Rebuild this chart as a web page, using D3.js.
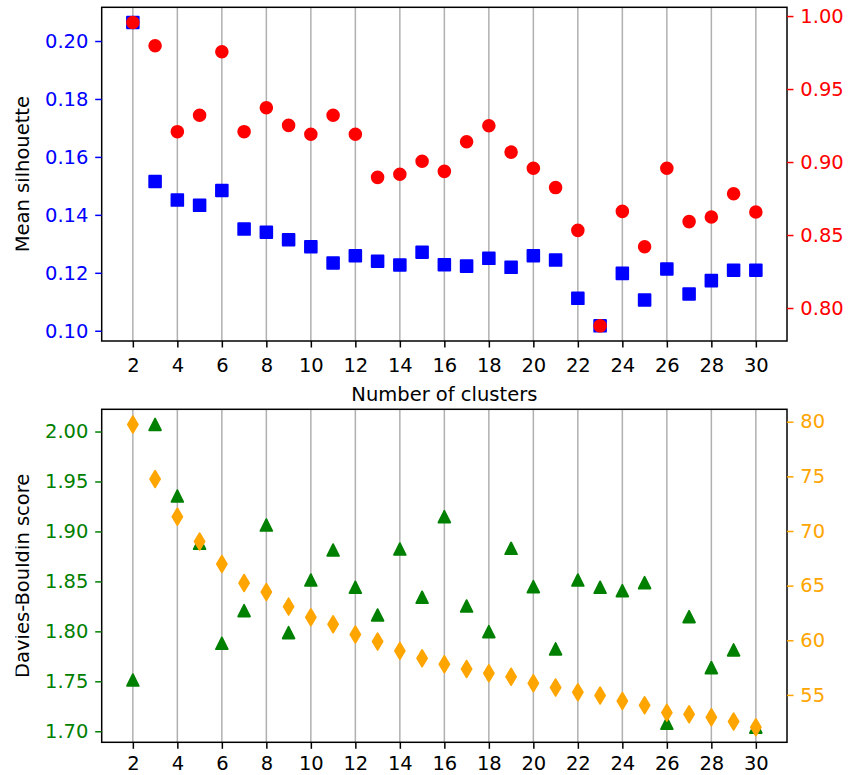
<!DOCTYPE html>
<html>
<head>
<meta charset="utf-8">
<script src="https://cdn.jsdelivr.net/npm/d3@7"></script>
<style>
  html, body { margin: 0; padding: 0; background: #fff; }
  svg { display: block; }
  text { font-family: "DejaVu Sans", sans-serif; }
</style>
</head>
<body>
<svg id="chart" width="850" height="775"></svg>
<script>
// Number of clusters evaluated
const clusters = [2, 3, 4, 5, 6, 7, 8, 9, 10, 11, 12, 13, 14, 15, 16, 17, 18, 19, 20, 21, 22, 23, 24, 25, 26, 27, 28, 29, 30];

// Top panel: mean silhouette (left axis) and second score (right axis)
const meanSilhouette = [0.2064, 0.1515, 0.1451, 0.1433, 0.1484, 0.1351, 0.1340, 0.1314, 0.1290, 0.1234,
  0.1259, 0.1240, 0.1227, 0.1271, 0.1228, 0.1223, 0.1250, 0.1219, 0.1259, 0.1244,
  0.1112, 0.1017, 0.1198, 0.1106, 0.1213, 0.1127, 0.1173, 0.1209, 0.1209];
const topRight = [0.9956, 0.9797, 0.9208, 0.9320, 0.9755, 0.9208, 0.9372, 0.9251, 0.9190, 0.9320,
  0.9190, 0.8895, 0.8916, 0.9005, 0.8936, 0.9139, 0.9249, 0.9068, 0.8957, 0.8825,
  0.8532, 0.7878, 0.8662, 0.8420, 0.8957, 0.8592, 0.8623, 0.8783, 0.8658];

// Bottom panel: Davies-Bouldin score (left axis) and second score (right axis)
const daviesBouldin = [1.7513, 2.0071, 1.9355, 1.8881, 1.7880, 1.8207, 1.9064, 1.7987, 1.8514, 1.8814,
  1.8441, 1.8164, 1.8824, 1.8341, 1.9148, 1.8254, 1.7997, 1.8831, 1.8447, 1.7824,
  1.8514, 1.8441, 1.8407, 1.8487, 1.7080, 1.8147, 1.7637, 1.7814, 1.7041];
const bottomRight = [79.75, 74.76, 71.31, 69.03, 66.99, 65.25, 64.42, 63.08, 62.11, 61.47,
  60.52, 59.88, 59.03, 58.36, 57.81, 57.38, 56.99, 56.67, 56.07, 55.67,
  55.25, 54.94, 54.45, 54.06, 53.38, 53.23, 52.96, 52.56, 52.05];

// Tick values
const xTicks = [2, 4, 6, 8, 10, 12, 14, 16, 18, 20, 22, 24, 26, 28, 30];
const silTicks = [0.10, 0.12, 0.14, 0.16, 0.18, 0.20];
const topRightTicks = [0.80, 0.85, 0.90, 0.95, 1.00];
const dbTicks = [1.70, 1.75, 1.80, 1.85, 1.90, 1.95, 2.00];
const bottomRightTicks = [55, 60, 65, 70, 75, 80];

const svg = d3.select("#chart");
const FONT = 19.5;
const TICK = 6.5;
const PAD = 6.8;
const left = 101.7, right = 787;

// y-axis titles sit against the left edge of the figure and are trimmed there
svg.append("defs").append("clipPath").attr("id", "ylabel-clip")
  .append("rect").attr("x", 15.5).attr("y", 0).attr("width", 60).attr("height", 775);

// Domain with 5% padding on each side, like an auto-scaled axis
function padded(values) {
  const [lo, hi] = d3.extent(values);
  const m = (hi - lo) * 0.05;
  return [lo - m, hi + m];
}

const x = d3.scaleLinear().domain([0.6, 31.4]).range([left, right]);

function drawPanel(opt) {
  const g = svg.append("g");
  const top = opt.top, bottom = opt.bottom;
  const yL = d3.scaleLinear().domain(padded(opt.leftValues)).range([bottom, top]);
  const yR = d3.scaleLinear().domain(padded(opt.rightValues)).range([bottom, top]);

  // vertical grid lines
  g.append("g").selectAll("line").data(xTicks).join("line")
    .attr("x1", d => x(d)).attr("x2", d => x(d))
    .attr("y1", top).attr("y2", bottom)
    .attr("stroke", "#b0b0b0").attr("stroke-width", 1.5);

  const pts = clusters.map((c, i) => ({ c, l: opt.leftValues[i], r: opt.rightValues[i] }));

  // left series markers
  drawMarkers(g, pts, d => x(d.c), d => yL(d.l), opt.leftMarker, opt.leftColor);
  // right series markers drawn on top
  drawMarkers(g, pts, d => x(d.c), d => yR(d.r), opt.rightMarker, opt.rightColor);

  // frame
  g.append("rect").attr("x", left).attr("y", top)
    .attr("width", right - left).attr("height", bottom - top)
    .attr("fill", "none").attr("stroke", "#000").attr("stroke-width", 1.5);

  // x axis
  const xa = g.append("g").attr("transform", `translate(0,${bottom})`)
    .call(d3.axisBottom(x).tickValues(xTicks).tickSize(TICK).tickPadding(PAD).tickFormat(d3.format("d")));
  styleAxis(xa, "#000");
  xa.selectAll("text").attr("dy", null).attr("y", opt.xTickBaseline);

  // left axis
  const la = g.append("g").attr("transform", `translate(${left},0)`)
    .call(d3.axisLeft(yL).tickValues(opt.leftTicks).tickSize(TICK).tickPadding(PAD).tickFormat(d3.format(".2f")));
  styleAxis(la, opt.leftColor);

  // right axis
  const ra = g.append("g").attr("transform", `translate(${right},0)`)
    .call(d3.axisRight(yR).tickValues(opt.rightTicks).tickSize(TICK).tickPadding(PAD).tickFormat(opt.rightFormat));
  styleAxis(ra, opt.rightColor);

  // y label
  g.append("g").attr("clip-path", "url(#ylabel-clip)")
    .append("text")
    .attr("transform", `translate(28.5,${(top + bottom) / 2}) rotate(-90)`)
    .attr("text-anchor", "middle")
    .attr("font-size", FONT).attr("fill", "#000")
    .text(opt.yLabel);

  if (opt.xLabel) {
    g.append("text")
      .attr("x", (left + right) / 2).attr("y", bottom + 60)
      .attr("text-anchor", "middle")
      .attr("font-size", FONT).attr("fill", "#000")
      .text(opt.xLabel);
  }
}

function styleAxis(a, color) {
  a.select(".domain").remove();
  a.selectAll(".tick line").attr("stroke", color).attr("stroke-width", 1.5);
  a.selectAll(".tick text").attr("fill", color).attr("font-size", FONT)
    .attr("font-family", "DejaVu Sans, sans-serif");
}

function drawMarkers(g, data, fx, fy, kind, color) {
  const sel = g.append("g").selectAll("path").data(data).join("path")
    .attr("transform", d => `translate(${fx(d)},${fy(d)})`)
    .attr("fill", color).attr("stroke", color).attr("stroke-width", 1.9)
    .attr("stroke-linejoin", "round");
  if (kind === "square") {
    sel.attr("d", "M-5.83,-5.83H5.83V5.83H-5.83Z");
  } else if (kind === "circle") {
    sel.attr("d", d3.symbol(d3.symbolCircle, Math.PI * 5.83 * 5.83)());
  } else if (kind === "triangle") {
    sel.attr("d", "M0,-5.83L5.83,5.83L-5.83,5.83Z");
  } else if (kind === "thin_diamond") {
    sel.attr("d", "M0,-8.25L4.95,0L0,8.25L-4.95,0Z");
  }
}

drawPanel({
  top: 7.3, bottom: 341, xTickBaseline: 30.8,
  leftValues: meanSilhouette, rightValues: topRight,
  leftTicks: silTicks, rightTicks: topRightTicks,
  rightFormat: d3.format(".2f"),
  leftMarker: "square", rightMarker: "circle",
  leftColor: "#0000ff", rightColor: "#ff0000",
  yLabel: "Mean silhouette", xLabel: "Number of clusters"
});

drawPanel({
  top: 409.3, bottom: 742.3, xTickBaseline: 28.2,
  leftValues: daviesBouldin, rightValues: bottomRight,
  leftTicks: dbTicks, rightTicks: bottomRightTicks,
  rightFormat: d3.format("d"),
  leftMarker: "triangle", rightMarker: "thin_diamond",
  leftColor: "#008000", rightColor: "#ffa500",
  yLabel: "Davies-Bouldin score", xLabel: null
});
</script>
</body>
</html>
